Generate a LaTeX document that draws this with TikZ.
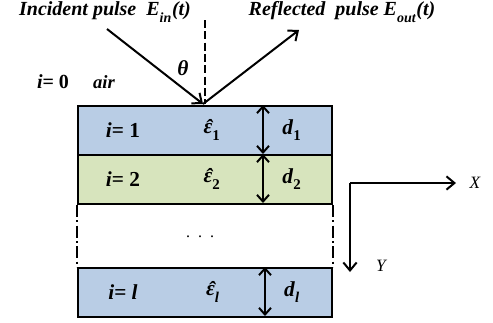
\documentclass[tikz,border=0pt]{standalone}
\usepackage{fontspec}
\setmainfont{Liberation Serif}
\usetikzlibrary{arrows.meta,calc}
\definecolor{lblue}{RGB}{185,205,229}
\definecolor{lgreen}{RGB}{215,228,189}
\newcommand{\epshat}{\textit{\rlap{\hspace{0.09em}\raisebox{-0.1ex}{\char"02C6}}ε}}
\newcommand{\lsub}[1]{\textsubscript{\raisebox{-0.4ex}{#1}}}
\begin{document}
\begin{tikzpicture}[x=0.75pt,y=-0.75pt,
  layerbox/.style={draw=black,line width=1.5pt,minimum width=190.5pt,minimum height=36.75pt,anchor=north west,inner sep=0pt},
  ray/.style={line width=1.5pt,-{Straight Barb[length=6pt,width=10pt,line width=1.5pt]}},
  dimarrow/.style={line width=1.5pt,{Straight Barb[length=5pt,width=9pt,line width=1.5pt]}-{Straight Barb[length=5pt,width=9pt,line width=1.5pt]}},
  lbl/.style={font=\fontsize{16}{18}\selectfont\bfseries,inner sep=0pt},
  ttl/.style={font=\fontsize{15}{17}\selectfont\bfseries\itshape,inner sep=0pt},
  sidedash/.style={line width=1.5pt,dash pattern=on 9pt off 2.5pt on 1.5pt off 2.5pt}]
\useasboundingbox (0,0) rectangle (493,322);
% layers
\node[layerbox,fill=lblue] (L1) at (77,105) {};
\node[layerbox,fill=lgreen] (L2) at (77,154) {};
\node[layerbox,fill=lblue] (Ll) at (77,267) {};
% side dash-dot lines
\draw[sidedash] (L2.south west) -- (Ll.north west);
\draw[sidedash] (L2.south east) -- (Ll.north east);
\node[font=\large] (dots) at (200,237) {.\ \ .\ \ .};
% thickness arrows
\coordinate (a1t) at (263,105); \coordinate (a1b) at (263,154);
\coordinate (a2b) at (263,203);
\coordinate (alt) at (265,267); \coordinate (alb) at (265,316);
\draw[dimarrow] (a1t) -- (a1b);
\draw[dimarrow] (a1b) -- (a2b);
\draw[dimarrow] (alt) -- (alb);
% labels inside layers
\node[lbl] (i1) at (123,130) {\textit{i}= 1};
\node[lbl] (i2) at (123,179) {\textit{i}= 2};
\node[lbl] (il) at (123,292) {\textit{i}= \textit{l}};
\node[lbl] (e1) at (212,130) {\epshat\lsub{1}};
\node[lbl] (e2) at (212,179) {\epshat\lsub{2}};
\node[lbl] (el) at (213,292) {\epshat\lsub{\textit{l}}};
\node[lbl] (d1) at (292,130) {\textit{d}\lsub{1}};
\node[lbl] (d2) at (292,179) {\textit{d}\lsub{2}};
\node[lbl] (dl) at (292,292) {\textit{d}\lsub{\textit{l}}};
% incident / reflected
\coordinate (src) at (107,29);
\coordinate (hit) at (203,104);
\coordinate (out) at (299,30);
\coordinate (ntop) at (205,20);
\coordinate (nbot) at (205,104);
\draw[ray] (src) -- (hit);
\draw[ray] (hit) -- (out);
\draw[line width=1.5pt,dash pattern=on 6pt off 2.5pt] (ntop) -- (nbot);
\node[ttl] (inc) at (105,12) {Incident pulse\ \ E\textsubscript{\raisebox{-0.7ex}{\itshape in}}(t)};
\node[ttl] (ref) at (342,12) {Reflected\ \ pulse E\textsubscript{\raisebox{-0.7ex}{\itshape out}}(t)};
\node[lbl,font=\fontsize{16}{18}\selectfont\bfseries\itshape] (theta) at (183,68) {θ};
\node[lbl,font=\fontsize{15}{17}\selectfont\bfseries] (i0) at (53,82) {\textit{i}= 0};
\node[ttl,font=\fontsize{14}{16}\selectfont\bfseries\itshape] (air) at (104,82) {air};
% axes
\coordinate (org) at (350,183);
\coordinate (xe) at (456,183);
\coordinate (ye) at (350,272);
\draw[ray] (org) -- (xe);
\draw[ray] (org) -- (ye);
\node[ttl,font=\fontsize{13}{15}\selectfont\itshape] (X) at (475,183) {X};
\node[ttl,font=\fontsize{13}{15}\selectfont\itshape] (Y) at (381,266) {Y};
\end{tikzpicture}
\end{document}
